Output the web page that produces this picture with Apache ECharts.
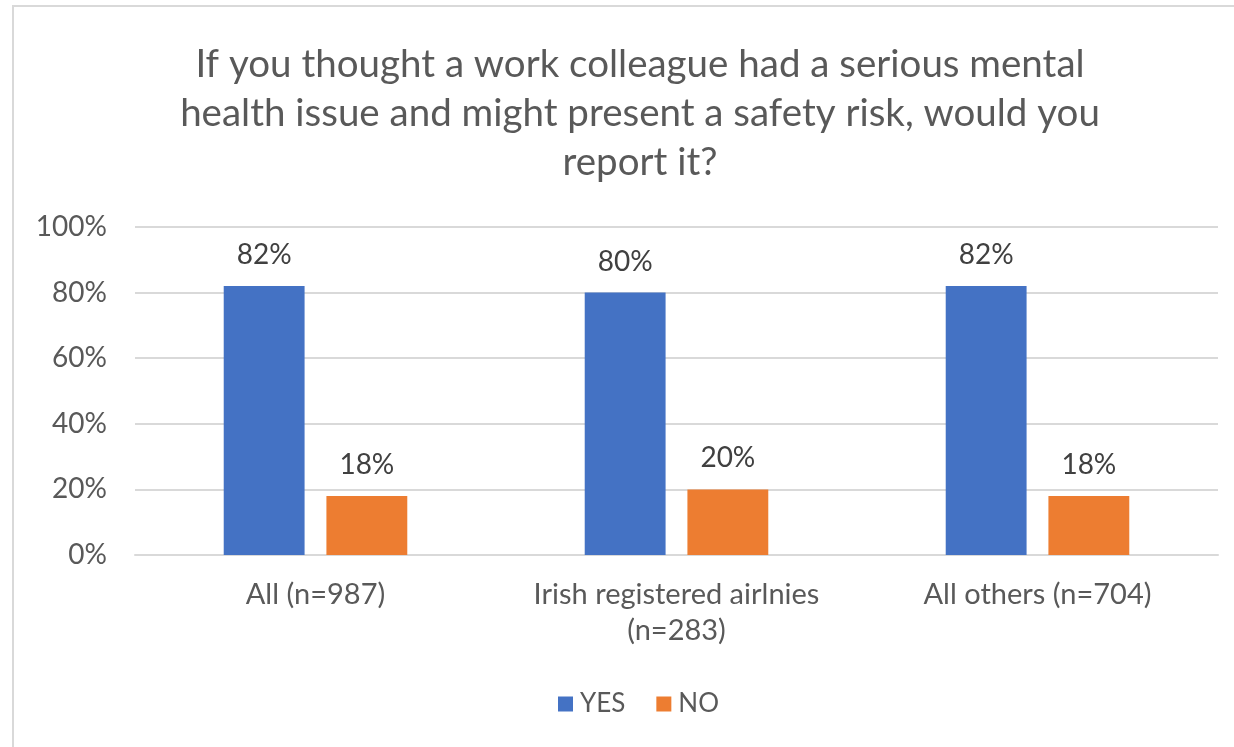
<!DOCTYPE html>
<html>
<head>
<meta charset="utf-8">
<script src="https://cdn.jsdelivr.net/npm/echarts@6/dist/echarts.min.js"></script>
<style>
  html, body { margin: 0; padding: 0; background: #ffffff; }
  #chart { width: 1234px; height: 747px; }
</style>
</head>
<body>
<div id="chart"></div>
<script>
// Survey groups and the share answering YES / NO (percent)
const categories = ['All (n=987)', 'Irish registered airlnies\n(n=283)', 'All others (n=704)'];
const yesValues = [82, 80, 82];
const noValues = [18, 20, 18];
const seriesNames = ['YES', 'NO'];
const titleText = 'If you thought a work colleague had a serious mental\nhealth issue and might present a safety risk, would you\nreport it?';

const FONT = 'Lato';
const TEXT_GREY = '#595959';

const chart = echarts.init(document.getElementById('chart'), null, { renderer: 'canvas' });

const labelStyle = {
  show: true,
  position: 'top',
  distance: 17,
  formatter: p => p.value + '%',
  color: '#404040',
  fontFamily: FONT,
  fontSize: 28
};

chart.setOption({
  animation: false,
  backgroundColor: '#ffffff',
  textStyle: { fontFamily: FONT },
  graphic: [{
    type: 'rect',
    shape: { x: 13, y: 6, width: 1260, height: 800 },
    style: { fill: 'none', stroke: '#d9d9d9', lineWidth: 2 },
    silent: true,
    z: -1
  }],
  title: {
    text: titleText,
    left: 635,
    top: 35,
    textAlign: 'center',
    textStyle: {
      fontFamily: FONT,
      fontSize: 38.5,
      fontWeight: 'normal',
      lineHeight: 49,
      color: TEXT_GREY
    }
  },
  legend: {
    data: seriesNames,
    left: 553,
    top: 686,
    icon: 'rect',
    itemWidth: 15,
    itemHeight: 15,
    itemGap: 31,
    textStyle: {
      fontFamily: FONT,
      fontSize: 26,
      color: TEXT_GREY,
      padding: [0, 0, 0, 2]
    }
  },
  grid: {
    left: 135,
    right: 16,
    top: 227,
    bottom: 192,
    containLabel: false
  },
  xAxis: {
    type: 'category',
    data: categories,
    axisTick: { show: false },
    axisLine: { show: true, lineStyle: { color: '#d9d9d9', width: 2 } },
    axisLabel: {
      margin: 22,
      fontFamily: FONT,
      fontSize: 29,
      lineHeight: 36,
      color: TEXT_GREY,
      interval: 0
    }
  },
  yAxis: {
    type: 'value',
    min: 0,
    max: 100,
    interval: 20,
    axisLine: { show: false },
    axisTick: { show: false },
    splitLine: { lineStyle: { color: '#d9d9d9', width: 2 } },
    axisLabel: {
      margin: 28,
      fontFamily: FONT,
      fontSize: 28,
      color: TEXT_GREY,
      formatter: v => v + '%'
    }
  },
  series: [
    {
      name: seriesNames[0],
      type: 'bar',
      data: yesValues,
      barWidth: '22.4%',
      barGap: '27%',
      itemStyle: { color: '#4472C4' },
      label: labelStyle
    },
    {
      name: seriesNames[1],
      type: 'bar',
      data: noValues,
      barWidth: '22.4%',
      itemStyle: { color: '#ED7D31' },
      label: labelStyle
    }
  ]
});
</script>
</body>
</html>
